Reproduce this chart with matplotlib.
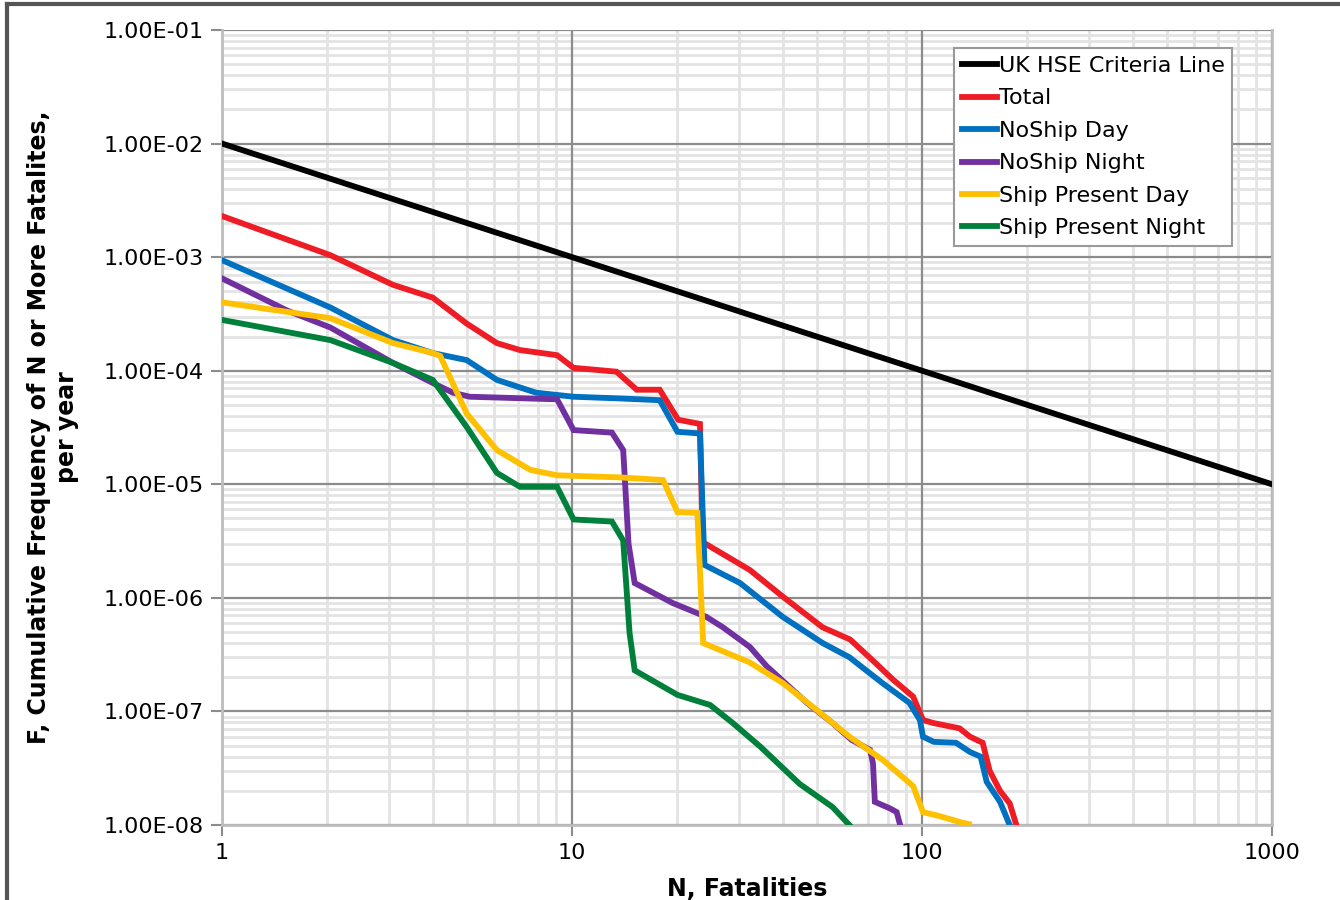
import matplotlib
matplotlib.use("Agg")
import matplotlib.pyplot as plt
from matplotlib.lines import Line2D
from matplotlib.ticker import LogLocator, FixedLocator, FuncFormatter, NullFormatter

# F-N curve data
hse_n = [1, 1000]
hse_f = [1e-2, 1e-5]

total_n = [1, 2.04, 3.08, 4.0, 5.0, 6.1, 7.1, 9.06, 10.1, 13.4, 15.3, 17.8, 20.1, 23.2, 23.6,
           26, 32.2, 40.1, 52, 62.3, 72.4, 82.7, 94.3, 100.6, 107.9, 128, 137, 149, 156, 167, 178, 186]
total_f = [2.3e-3, 1.04e-3, 5.7e-4, 4.4e-4, 2.6e-4, 1.75e-4, 1.52e-4, 1.37e-4, 1.06e-4, 9.8e-5,
           6.8e-5, 6.8e-5, 3.7e-5, 3.4e-5, 3.1e-6,
           2.6e-6, 1.76e-6, 1.02e-6, 5.5e-7, 4.3e-7, 2.8e-7, 1.9e-7, 1.35e-7, 8.4e-8, 7.9e-8,
           7.1e-8, 6.0e-8, 5.3e-8, 3.0e-8, 2.0e-8, 1.55e-8, 1.0e-8]

noship_day_n = [1, 2.04, 3.08, 4.0, 5.0, 6.1, 7.9, 10.1, 13.7, 17.8, 20, 23.2, 23.9,
                30.2, 40, 52, 62, 77, 92, 98.6, 100.6, 108, 125, 137, 147, 153, 167, 178]
noship_day_f = [9.4e-4, 3.6e-4, 1.86e-4, 1.43e-4, 1.24e-4, 8.3e-5, 6.4e-5, 5.9e-5, 5.7e-5, 5.5e-5,
                2.9e-5, 2.8e-5, 1.95e-6,
                1.35e-6, 6.8e-7, 4.0e-7, 3.0e-7, 1.78e-7, 1.19e-7, 8.4e-8, 6.0e-8, 5.4e-8, 5.3e-8,
                4.4e-8, 4.0e-8, 2.4e-8, 1.6e-8, 1.0e-8]

noship_night_n = [1, 1.53, 2.04, 3.08, 4.0, 4.57, 5.1, 9.06, 10.1, 13, 14, 14.5, 15.1, 19.4, 24.2,
                  27, 32.2, 36, 46.9, 55.5, 63, 71, 72.4, 73.3, 81, 84.6, 86.6]
noship_night_f = [6.5e-4, 3.4e-4, 2.4e-4, 1.17e-4, 7.8e-5, 6.4e-5, 5.9e-5, 5.6e-5, 3.0e-5, 2.85e-5,
                  2.0e-5, 3e-6, 1.35e-6, 9.0e-7, 6.8e-7,
                  5.5e-7, 3.7e-7, 2.5e-7, 1.19e-7, 7.9e-8, 5.6e-8, 4.6e-8, 3.5e-8, 1.6e-8, 1.4e-8,
                  1.3e-8, 1.0e-8]

ship_day_n = [1, 2.04, 3.08, 4.0, 4.2, 5.0, 6.1, 7.6, 9.06, 13.7, 18.2, 20, 22.8, 23.7,
              32.2, 40, 50, 62, 77.6, 94.3, 100.6, 112, 130, 136]
ship_day_f = [4.0e-4, 2.9e-4, 1.75e-4, 1.43e-4, 1.35e-4, 4.2e-5, 2.0e-5, 1.34e-5, 1.2e-5, 1.15e-5,
              1.09e-5, 5.7e-6, 5.6e-6, 4.0e-7,
              2.7e-7, 1.78e-7, 1.03e-7, 6.0e-8, 3.7e-8, 2.2e-8, 1.3e-8, 1.2e-8, 1.05e-8, 1.02e-8]

ship_night_n = [1, 2.04, 3.08, 4.0, 5.0, 6.1, 7.1, 9.06, 10.1, 13, 14, 14.6, 15.1, 20, 24.8,
                28.8, 34.5, 44.7, 55.5, 62]
ship_night_f = [2.8e-4, 1.86e-4, 1.17e-4, 8.3e-5, 3.2e-5, 1.26e-5, 9.5e-6, 9.5e-6, 4.9e-6, 4.7e-6,
                3.2e-6, 4.9e-7, 2.3e-7, 1.4e-7, 1.14e-7,
                7.9e-8, 4.9e-8, 2.3e-8, 1.44e-8, 1.0e-8]

x_ticks = [1, 10, 100, 1000]
y_ticks = [1e-8, 1e-7, 1e-6, 1e-5, 1e-4, 1e-3, 1e-2, 1e-1]

series = [
    ("UK HSE Criteria Line", hse_n, hse_f, "#000000"),
    ("Total", total_n, total_f, "#ee1c25"),
    ("NoShip Day", noship_day_n, noship_day_f, "#0070c0"),
    ("NoShip Night", noship_night_n, noship_night_f, "#7030a0"),
    ("Ship Present Day", ship_day_n, ship_day_f, "#ffc000"),
    ("Ship Present Night", ship_night_n, ship_night_f, "#00803a"),
]

fig = plt.figure(figsize=(13.4, 9), dpi=100)
ax = fig.add_axes([0.1657, 0.0833, 0.7836, 0.8834])

for label, n, f, c in series:
    ax.plot(n, f, color=c, lw=4.2, label=label, solid_joinstyle="miter", zorder=3)

ax.set_xscale("log")
ax.set_yscale("log")
ax.set_xlim(1, 1000)
ax.set_ylim(1e-8, 1e-1)

ax.yaxis.set_major_locator(FixedLocator(y_ticks))
ax.yaxis.set_minor_locator(LogLocator(base=10, subs=range(2, 10), numticks=20))
ax.yaxis.set_major_formatter(FuncFormatter(lambda v, p: "%.2E" % v))
ax.yaxis.set_minor_formatter(NullFormatter())
ax.xaxis.set_major_locator(FixedLocator(x_ticks))
ax.xaxis.set_minor_locator(LogLocator(base=10, subs=range(2, 10), numticks=20))
ax.xaxis.set_major_formatter(FuncFormatter(lambda v, p: "%d" % v))
ax.xaxis.set_minor_formatter(NullFormatter())

# light minor grid, darker major grid drawn on top of it
ax.grid(True, which="minor", color="#e3e3e3", lw=2)
ax.set_axisbelow(True)
for v in x_ticks:
    ax.axvline(v, color="#8c8c8c", lw=1.6, zorder=1)
for v in y_ticks:
    ax.axhline(v, color="#8c8c8c", lw=1.6, zorder=1)

ax.spines["top"].set_visible(False)
for s in ["left", "bottom", "right"]:
    ax.spines[s].set_color("#bdbdbd")
    ax.spines[s].set_linewidth(2)

ax.tick_params(which="major", length=8, width=1.5, color="#8c8c8c", labelsize=16, pad=5)
ax.tick_params(which="minor", length=0)

ax.set_xlabel("N, Fatalities", fontsize=17, fontweight="bold", labelpad=10)
ax.set_ylabel("F, Cumulative Frequency of N or More Fatalites,\nper year",
              fontsize=17, fontweight="bold", labelpad=18)

leg_handles = [Line2D([0], [0], color=c, lw=4.2) for _, _, _, c in series]
leg = ax.legend(leg_handles, [s[0] for s in series], loc="upper right",
                bbox_to_anchor=(0.962, 0.977), borderaxespad=0, fontsize=16, frameon=True,
                fancybox=False, edgecolor="#9a9a9a", handlelength=1.6, handletextpad=0.05,
                labelspacing=0.56, borderpad=0.35, framealpha=1)
leg.get_frame().set_linewidth(1.5)

# outer frame of the picture
fig.add_artist(Line2D([7 / 1340, 7 / 1340], [0, 1 - 4 / 900], transform=fig.transFigure,
                      color="#555555", lw=3))
fig.add_artist(Line2D([7 / 1340, 1], [1 - 4 / 900, 1 - 4 / 900], transform=fig.transFigure,
                      color="#555555", lw=3))

fig.savefig("out.png", dpi=100)
